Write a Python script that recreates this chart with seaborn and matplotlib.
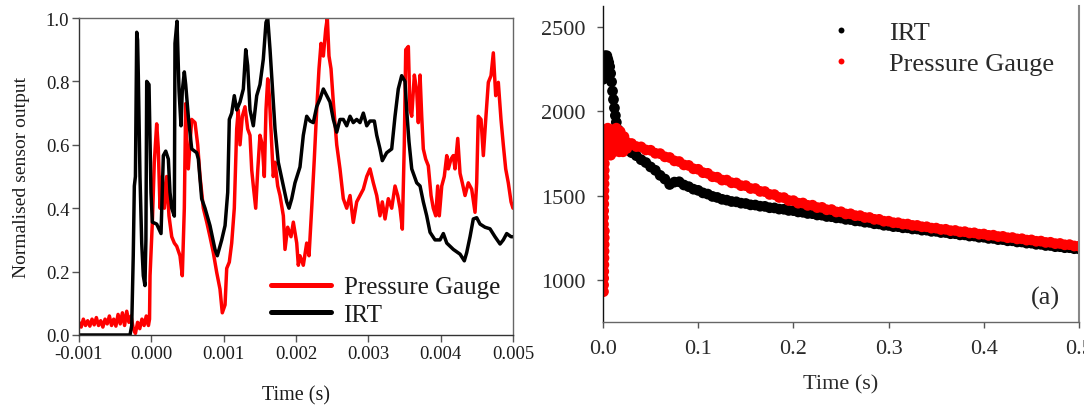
import numpy as np
import pandas as pd
import matplotlib
matplotlib.use("Agg")
import matplotlib.pyplot as plt
import seaborn as sns

# ---------------- left panel data (time in ms, normalised output) ----------------
irt_time_ms = [-1.000, -0.700, -0.400, -0.295, -0.271, -0.250, -0.235, -0.220, -0.202, -0.190,
               -0.180, -0.157, -0.133, -0.111, -0.088, -0.075, -0.064, -0.032, -0.005, 0.014,
               0.074, 0.134, 0.166, 0.199, 0.235, 0.258, 0.282, 0.318, 0.327, 0.355,
               0.383, 0.410, 0.428, 0.456, 0.475, 0.511, 0.558, 0.627, 0.650, 0.696,
               0.742, 0.811, 0.880, 0.912, 0.973, 1.019, 1.056, 1.078, 1.111, 1.147,
               1.180, 1.226, 1.272, 1.305, 1.332, 1.364, 1.410, 1.457, 1.502, 1.548,
               1.585, 1.609, 1.641, 1.672, 1.710, 1.755, 1.825, 1.872, 1.903, 1.941,
               1.986, 2.055, 2.101, 2.148, 2.194, 2.239, 2.286, 2.332, 2.378, 2.425,
               2.470, 2.516, 2.563, 2.608, 2.654, 2.701, 2.747, 2.792, 2.839, 2.885,
               2.931, 2.978, 3.023, 3.083, 3.116, 3.161, 3.193, 3.254, 3.323, 3.369,
               3.414, 3.461, 3.507, 3.530, 3.562, 3.600, 3.669, 3.715, 3.760, 3.807,
               3.853, 3.922, 3.991, 4.037, 4.084, 4.175, 4.268, 4.327, 4.360, 4.406,
               4.451, 4.498, 4.544, 4.613, 4.682, 4.751, 4.821, 4.866, 4.913, 4.973,
               5.000]
irt_norm = [0.00, 0.00, 0.00, 0.00, 0.03, 0.25, 0.47, 0.50, 0.955, 0.93,
            0.818, 0.50, 0.29, 0.187, 0.156, 0.30, 0.80, 0.79, 0.45, 0.356,
            0.35, 0.32, 0.566, 0.58, 0.555, 0.45, 0.40, 0.375, 0.92, 0.99,
            0.77, 0.66, 0.77, 0.83, 0.79, 0.69, 0.587, 0.575, 0.555, 0.43,
            0.40, 0.345, 0.27, 0.25, 0.30, 0.345, 0.45, 0.68, 0.70, 0.755,
            0.71, 0.735, 0.776, 0.90, 0.85, 0.71, 0.66, 0.755, 0.79, 0.87,
            0.986, 1.0, 0.90, 0.79, 0.65, 0.545, 0.47, 0.42, 0.40, 0.43,
            0.48, 0.53, 0.63, 0.69, 0.675, 0.67, 0.72, 0.745, 0.776, 0.755,
            0.735, 0.68, 0.64, 0.68, 0.68, 0.66, 0.69, 0.67, 0.68, 0.67,
            0.70, 0.66, 0.675, 0.675, 0.63, 0.587, 0.55, 0.575, 0.587, 0.69,
            0.776, 0.818, 0.80, 0.71, 0.61, 0.524, 0.48, 0.47, 0.42, 0.376,
            0.324, 0.30, 0.30, 0.32, 0.29, 0.27, 0.255, 0.234, 0.26, 0.31,
            0.366, 0.37, 0.35, 0.34, 0.335, 0.31, 0.287, 0.30, 0.32, 0.31,
            0.31]

pg_time_ms = [-1.000, -0.970, -0.940, -0.910, -0.880, -0.850, -0.820, -0.790, -0.760, -0.730,
              -0.700, -0.670, -0.640, -0.610, -0.580, -0.550, -0.520, -0.490, -0.460, -0.430,
              -0.400, -0.370, -0.340, -0.310, -0.280, -0.250, -0.220, -0.190, -0.160, -0.130,
              -0.100, -0.070, -0.040, -0.025,
              -0.018, 0.014, 0.041, 0.074, 0.096, 0.120, 0.152, 0.180, 0.212, 0.244,
              0.282, 0.318, 0.351, 0.396, 0.428, 0.456, 0.475, 0.490, 0.511, 0.558,
              0.604, 0.641, 0.673, 0.719, 0.766, 0.811, 0.857, 0.904, 0.949, 0.981,
              1.019, 1.042, 1.078, 1.111, 1.147, 1.180, 1.202, 1.226, 1.258, 1.295,
              1.332, 1.364, 1.388, 1.410, 1.443, 1.471, 1.502, 1.534, 1.562, 1.585,
              1.609, 1.631, 1.664, 1.686, 1.710, 1.747, 1.779, 1.825, 1.848, 1.885,
              1.931, 1.963, 2.010, 2.032, 2.055, 2.101, 2.148, 2.180, 2.217, 2.253,
              2.286, 2.318, 2.346, 2.378, 2.411, 2.433, 2.456, 2.484, 2.516, 2.563,
              2.608, 2.654, 2.701, 2.747, 2.792, 2.839, 2.885, 2.931, 2.978, 3.023,
              3.069, 3.116, 3.161, 3.193, 3.231, 3.276, 3.323, 3.369, 3.406, 3.438,
              3.470, 3.497, 3.517, 3.553, 3.576, 3.600, 3.636, 3.669, 3.691, 3.715,
              3.738, 3.760, 3.793, 3.829, 3.867, 3.898, 3.932, 3.959, 3.981, 4.015,
              4.050, 4.084, 4.106, 4.143, 4.175, 4.198, 4.236, 4.268, 4.299, 4.337,
              4.382, 4.429, 4.475, 4.498, 4.520, 4.558, 4.590, 4.623, 4.659, 4.696,
              4.728, 4.761, 4.797, 4.834, 4.866, 4.899, 4.935, 4.973, 5.000]
pg_norm = [0.040, 0.025, 0.050, 0.030, 0.045, 0.028, 0.050, 0.032, 0.055, 0.030,
           0.045, 0.025, 0.050, 0.035, 0.060, 0.030, 0.050, 0.028, 0.065, 0.035,
           0.070, 0.030, 0.075, 0.040, 0.060, 0.020, 0.005, 0.040, 0.020, 0.050,
           0.030, 0.060, 0.030, 0.050,
           0.187, 0.356, 0.545, 0.666, 0.590, 0.400, 0.500, 0.400, 0.500, 0.376,
           0.310, 0.290, 0.280, 0.250, 0.187, 0.400, 0.730, 0.555, 0.524, 0.680,
           0.670, 0.600, 0.500, 0.400, 0.356, 0.310, 0.260, 0.197, 0.145, 0.070,
           0.095, 0.210, 0.230, 0.290, 0.400, 0.650, 0.710, 0.600, 0.690, 0.720,
           0.650, 0.630, 0.520, 0.470, 0.400, 0.520, 0.630, 0.600, 0.500, 0.710,
           0.808, 0.755, 0.600, 0.500, 0.545, 0.470, 0.440, 0.376, 0.270, 0.340,
           0.310, 0.356, 0.290, 0.220, 0.250, 0.220, 0.290, 0.250, 0.400, 0.555,
           0.710, 0.840, 0.920, 0.880, 0.965, 1.000, 0.880, 0.840, 0.734, 0.600,
           0.524, 0.430, 0.400, 0.440, 0.355, 0.420, 0.440, 0.460, 0.500, 0.524,
           0.480, 0.440, 0.376, 0.420, 0.366, 0.430, 0.400, 0.470, 0.440, 0.400,
           0.334, 0.600, 0.900, 0.910, 0.710, 0.690, 0.820, 0.770, 0.670, 0.820,
           0.690, 0.587, 0.555, 0.534, 0.440, 0.400, 0.376, 0.470, 0.376, 0.470,
           0.500, 0.566, 0.524, 0.555, 0.566, 0.524, 0.620, 0.510, 0.480, 0.440,
           0.480, 0.460, 0.387, 0.480, 0.690, 0.680, 0.566, 0.680, 0.797, 0.818,
           0.890, 0.755, 0.797, 0.680, 0.600, 0.524, 0.480, 0.420, 0.400]

# ---------------- right panel data (time in s, temperature) ----------------
irt_time_s = [0.000, 0.000, 0.0005, 0.001, 0.002, 0.003, 0.004, 0.005, 0.006, 0.007,
              0.008, 0.009, 0.010, 0.011, 0.012, 0.013, 0.014, 0.016, 0.018, 0.020,
              0.023, 0.026,
              0.030, 0.035, 0.040, 0.045, 0.050, 0.055, 0.060, 0.065, 0.070, 0.075,
              0.080, 0.085, 0.090, 0.095, 0.100, 0.105, 0.110, 0.115, 0.120, 0.125,
              0.130, 0.135, 0.140, 0.145, 0.150, 0.155, 0.160, 0.165, 0.170, 0.175,
              0.180, 0.185, 0.190, 0.195, 0.200, 0.205, 0.210, 0.215, 0.220, 0.225,
              0.230, 0.235, 0.240, 0.245, 0.250, 0.255, 0.260, 0.265, 0.270, 0.275,
              0.280, 0.285, 0.290, 0.295, 0.300, 0.305, 0.310, 0.315, 0.320, 0.325,
              0.330, 0.335, 0.340, 0.345, 0.350, 0.355, 0.360, 0.365, 0.370, 0.375,
              0.380, 0.385, 0.390, 0.395, 0.400, 0.405, 0.410, 0.415, 0.420, 0.425,
              0.430, 0.435, 0.440, 0.445, 0.450, 0.455, 0.460, 0.465, 0.470, 0.475,
              0.480, 0.485, 0.490, 0.495, 0.500]
irt_temp = [2190, 2230, 2260, 2300, 2330, 2320, 2330, 2310, 2290, 2265,
            2225, 2175, 2120, 2070, 2020, 1975, 1935, 1890, 1860, 1840,
            1810, 1780,
            1755, 1737, 1713, 1696, 1670, 1650, 1620, 1598, 1566, 1580,
            1582, 1563, 1553, 1538, 1531, 1516, 1509, 1495, 1489, 1478,
            1473, 1465, 1463, 1455, 1453, 1445, 1444, 1437, 1436, 1428,
            1427, 1420, 1419, 1412, 1411, 1403, 1401, 1394, 1393, 1385,
            1384, 1376, 1375, 1368, 1367, 1359, 1358, 1350, 1349, 1342,
            1341, 1333, 1332, 1324, 1323, 1316, 1316, 1309, 1309, 1302,
            1302, 1295, 1295, 1288, 1288, 1281, 1281, 1274, 1274, 1267,
            1267, 1260, 1260, 1253, 1253, 1246, 1246, 1239, 1239, 1232,
            1232, 1225, 1225, 1218, 1218, 1211, 1211, 1204, 1204, 1197,
            1197, 1191, 1191, 1185, 1184]

pg_time_s = [0.0005, 0.0006, 0.0007, 0.0008, 0.0009, 0.0010, 0.0011, 0.0012, 0.0013, 0.0014,
             0.0005, 0.0006, 0.0007, 0.0008, 0.0009, 0.0010, 0.0011, 0.0012, 0.0013, 0.0014,
             0.0015, 0.0016, 0.0017, 0.0018, 0.0020,
             0.003, 0.004, 0.005, 0.006, 0.007, 0.008, 0.009, 0.010, 0.011, 0.012,
             0.013, 0.014, 0.015, 0.016, 0.017, 0.018, 0.019, 0.020, 0.021, 0.022,
             0.023, 0.024, 0.025, 0.026,
             0.030, 0.035, 0.040, 0.045, 0.050, 0.055, 0.060, 0.065, 0.070, 0.075,
             0.080, 0.085, 0.090, 0.095, 0.100, 0.105, 0.110, 0.115, 0.120, 0.125,
             0.130, 0.135, 0.140, 0.145, 0.150, 0.155, 0.160, 0.165, 0.170, 0.175,
             0.180, 0.185, 0.190, 0.195, 0.200, 0.205, 0.210, 0.215, 0.220, 0.225,
             0.230, 0.235, 0.240, 0.245, 0.250, 0.255, 0.260, 0.265, 0.270, 0.275,
             0.280, 0.285, 0.290, 0.295, 0.300, 0.305, 0.310, 0.315, 0.320, 0.325,
             0.330, 0.335, 0.340, 0.345, 0.350, 0.355, 0.360, 0.365, 0.370, 0.375,
             0.380, 0.385, 0.390, 0.395, 0.400, 0.405, 0.410, 0.415, 0.420, 0.425,
             0.430, 0.435, 0.440, 0.445, 0.450, 0.455, 0.460, 0.465, 0.470, 0.475,
             0.480, 0.485, 0.490, 0.495, 0.500]
pg_temp = [930, 970, 1010, 1050, 1090, 1130, 1170, 1210, 1250, 1290,
           1330, 1370, 1410, 1450, 1490, 1530, 1570, 1610, 1650, 1690,
           1730, 1770, 1810, 1850, 1890,
           1880, 1760, 1900, 1780, 1850, 1740, 1890, 1800, 1760, 1870,
           1790, 1900, 1770, 1840, 1760, 1880, 1800, 1830, 1760, 1850,
           1790, 1820, 1780, 1810,
           1809, 1791, 1789, 1771, 1769, 1751, 1749, 1730, 1726, 1706,
           1702, 1682, 1679, 1659, 1656, 1636, 1632, 1612, 1609, 1592,
           1592, 1576, 1575, 1559, 1559, 1542, 1542, 1525, 1524, 1507,
           1506, 1489, 1488, 1471, 1470, 1455, 1456, 1442, 1443, 1429,
           1430, 1416, 1417, 1403, 1404, 1391, 1392, 1381, 1381, 1370,
           1370, 1359, 1359, 1348, 1348, 1339, 1339, 1331, 1331, 1323,
           1323, 1315, 1315, 1307, 1307, 1299, 1300, 1292, 1293, 1285,
           1286, 1278, 1279, 1271, 1272, 1264, 1265, 1257, 1258, 1250,
           1251, 1243, 1244, 1236, 1237, 1229, 1230, 1222, 1223, 1215,
           1216, 1208, 1209, 1201, 1200]

left_xticks = [-0.001, 0.000, 0.001, 0.002, 0.003, 0.004, 0.005]
left_yticks = [0.0, 0.2, 0.4, 0.6, 0.8, 1.0]
right_xticks = [0.0, 0.1, 0.2, 0.3, 0.4, 0.5]
right_yticks = [1000, 1500, 2000, 2500]

# ---------------- style ----------------
sns.set_theme(style="white")
plt.rcParams["font.family"] = ["Liberation Serif", "DejaVu Serif"]
plt.rcParams["axes.unicode_minus"] = False

colors = {"Pressure Gauge": "#ff0000", "IRT": "#000000"}
text_col = "#1c1c1c"

fig = plt.figure(figsize=(10.84, 4.06), dpi=100)
ax1 = fig.add_axes([79 / 1084, 1 - 336 / 406, 434 / 1084, 317 / 406])
ax2 = fig.add_axes([603 / 1084, 1 - 323 / 406, 476 / 1084, 316 / 406])

# ---------------- left panel ----------------
df_left = pd.concat([
    pd.DataFrame({"time": np.array(pg_time_ms) * 1e-3, "value": pg_norm, "sensor": "Pressure Gauge"}),
    pd.DataFrame({"time": np.array(irt_time_ms) * 1e-3, "value": irt_norm, "sensor": "IRT"}),
], ignore_index=True)

sns.lineplot(data=df_left, x="time", y="value", hue="sensor",
             hue_order=["Pressure Gauge", "IRT"], palette=colors,
             estimator=None, sort=False, linewidth=2.5, ax=ax1)

ax1.set_xlim(-0.001, 0.005)
ax1.set_ylim(0, 1.0)
ax1.set_xticks(left_xticks)
ax1.set_xticklabels([f"{v:.3f}" for v in left_xticks])
ax1.set_yticks(left_yticks)
ax1.set_yticklabels([f"{v:.1f}" for v in left_yticks])
ax1.tick_params(axis="both", direction="out", length=5, width=1, pad=2,
                labelsize=13.5, labelcolor=text_col, color="#555555",
                bottom=True, left=True)
ax1.set_xlabel("Time (s)", fontsize=14.5, color=text_col)
ax1.set_ylabel("Normalised sensor output", fontsize=14, color=text_col)
ax1.xaxis.set_label_coords(0.5, -0.157)
ax1.yaxis.set_label_coords(-0.112, 0.5)
for side in ["left", "bottom"]:
    ax1.spines[side].set_color("#333333")
    ax1.spines[side].set_linewidth(1.0)
for side in ["top", "right"]:
    ax1.spines[side].set_color("#666666")
    ax1.spines[side].set_linewidth(1.0)

h1, l1 = ax1.get_legend_handles_labels()
leg1 = ax1.legend(h1, l1, loc="lower left", bbox_to_anchor=(271 / 1084, 1 - 327 / 406),
                  bbox_transform=fig.transFigure, frameon=False, fontsize=18,
                  handlelength=2.4, handletextpad=0.5, labelspacing=0.2,
                  borderpad=0.0, borderaxespad=0.0)
for ln in leg1.get_lines():
    ln.set_linewidth(3.6)
for t in leg1.get_texts():
    t.set_color(text_col)

# ---------------- right panel ----------------
df_right = pd.concat([
    pd.DataFrame({"time": irt_time_s, "temp": irt_temp, "sensor": "IRT"}),
    pd.DataFrame({"time": pg_time_s, "temp": pg_temp, "sensor": "Pressure Gauge"}),
], ignore_index=True)

sns.scatterplot(data=df_right, x="time", y="temp", hue="sensor",
                hue_order=["IRT", "Pressure Gauge"], palette=colors,
                s=60, linewidth=0, ax=ax2)

ax2.set_xlim(0, 0.5)
ax2.set_ylim(750, 2625)
ax2.set_xticks(right_xticks)
ax2.set_xticklabels([f"{v:.1f}" for v in right_xticks])
ax2.set_yticks(right_yticks)
ax2.set_yticklabels([str(v) for v in right_yticks])
ax2.tick_params(axis="both", direction="out", length=4, width=1, pad=8.5,
                labelsize=16, labelcolor="#2a2a2a", color="#555555",
                bottom=True, left=True)
ax2.set_xlabel("Time (s)", fontsize=16, color="#2a2a2a")
ax2.set_ylabel("")
ax2.xaxis.set_label_coords(0.5, -0.164)
ax2.spines["top"].set_visible(False)
ax2.spines["left"].set_color("#111111")
ax2.spines["left"].set_linewidth(1.0)
ax2.spines["bottom"].set_color("#666666")
ax2.spines["bottom"].set_linewidth(1.0)
ax2.spines["right"].set_color("#888888")
ax2.spines["right"].set_linewidth(1.5)

h2, l2 = ax2.get_legend_handles_labels()
leg2 = ax2.legend(h2, l2, loc="upper left", bbox_to_anchor=(828 / 1084, 1 - 22 / 406),
                  bbox_transform=fig.transFigure, frameon=False, fontsize=19,
                  markerscale=0.55, handlelength=1.0, handletextpad=1.3,
                  labelspacing=0.28, borderpad=0.0, borderaxespad=0.0)
for t in leg2.get_texts():
    t.set_color("#2a2a2a")

ax2.text(0.93, 0.078, "(a)", transform=ax2.transAxes, fontsize=19,
         color="#2a2a2a", ha="center", va="center")

fig.savefig("out.png", dpi=100)
